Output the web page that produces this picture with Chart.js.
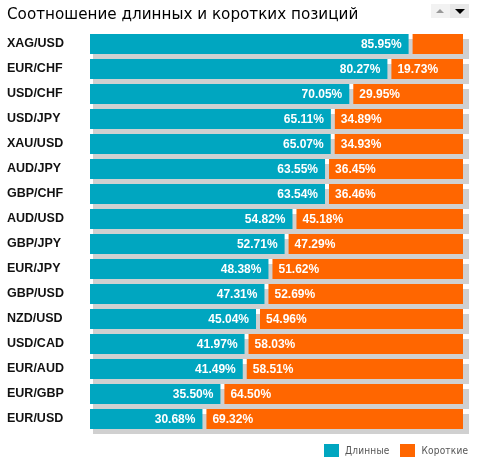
<!DOCTYPE html>
<html>
<head>
<meta charset="utf-8">
<script src="https://cdn.jsdelivr.net/npm/chart.js@4.4.0/dist/chart.umd.min.js"></script>
<style>
  body { margin: 0; background: #fff; }
  #wrap { position: relative; width: 478px; height: 460px; }
  #arrows { position: absolute; left: 431px; top: 4px; width: 38px; height: 14px; background: #e8e8e8; }
  #arrows .up { position: absolute; left: 0; top: 0; width: 19px; height: 14px; background: #f2f2f2; }
  #arrows .up:after { content: ''; position: absolute; left: 5px; top: 5px; border-left: 4px solid transparent; border-right: 4px solid transparent; border-bottom: 4px solid #999; }
  #arrows .down:after { content: ''; position: absolute; left: 24px; top: 5px; border-left: 5px solid transparent; border-right: 5px solid transparent; border-top: 5px solid #000; }
  #legend { position: absolute; left: 324px; top: 444px; font: 10px "DejaVu Sans Condensed", "DejaVu Sans"; color: #555; letter-spacing: 0.2px; white-space: nowrap; }
  #legend span { display: inline-block; vertical-align: top; }
  #legend .box { width: 15px; height: 13px; margin-right: 6px; }
  #legend .txt { line-height: 13px; margin-right: 11px; }
</style>
</head>
<body>
<div id="wrap">
  <canvas id="ratioChart" width="478" height="460"></canvas>
  <div id="arrows"><span class="up"></span><span class="down"></span></div>
  <div id="legend"></div>
</div>
<script>
const pairs = ['XAG/USD', 'EUR/CHF', 'USD/CHF', 'USD/JPY', 'XAU/USD', 'AUD/JPY', 'GBP/CHF', 'AUD/USD',
    'GBP/JPY', 'EUR/JPY', 'GBP/USD', 'NZD/USD', 'USD/CAD', 'EUR/AUD', 'EUR/GBP', 'EUR/USD'];
const longValues = [85.95, 80.27, 70.05, 65.11, 65.07, 63.55, 63.54, 54.82,
    52.71, 48.38, 47.31, 45.04, 41.97, 41.49, 35.50, 30.68];
const shortValues = [14.05, 19.73, 29.95, 34.89, 34.93, 36.45, 36.46, 45.18,
    47.29, 51.62, 52.69, 54.96, 58.03, 58.51, 64.50, 69.32];

const tealColor = '#00a6c0';
const orangeColor = '#ff6600';

// grey shadow behind each row
const shadowPlugin = {
    id: 'rowShadow',
    beforeDatasetsDraw(chart) {
        const ctx = chart.ctx;
        const longMeta = chart.getDatasetMeta(0);
        const right = chart.chartArea.right;
        ctx.save();
        ctx.fillStyle = '#d0d0d0';
        longMeta.data.forEach(function(bar) {
            const h = bar.height;
            ctx.fillRect(bar.base + 3, bar.y - h / 2 + 5, right + 6 - bar.base - 3, h);
        });
        ctx.restore();
    }
};

// percentage labels inside bars
const valueLabels = {
    id: 'valueLabels',
    afterDatasetsDraw(chart) {
        const ctx = chart.ctx;
        ctx.save();
        ctx.font = 'bold 12px "Liberation Sans"';
        ctx.fillStyle = '#fff';
        ctx.textBaseline = 'middle';
        chart.getDatasetMeta(0).data.forEach(function(bar, i) {
            ctx.textAlign = 'right';
            ctx.fillText(longValues[i].toFixed(2) + '%', bar.x - 9, bar.y + 1);
        });
        chart.getDatasetMeta(1).data.forEach(function(bar, i) {
            if (shortValues[i] < 15) return;
            ctx.textAlign = 'left';
            ctx.fillText(shortValues[i].toFixed(2) + '%', bar.base + 8, bar.y + 1);
        });
        ctx.restore();
    }
};

const ctx = document.getElementById('ratioChart').getContext('2d');
const ratioChart = new Chart(ctx, {
    type: 'bar',
    data: {
        labels: pairs,
        datasets: [{
            label: 'Длинные',
            data: longValues,
            backgroundColor: tealColor,
            borderColor: 'rgba(0,0,0,0)',
            borderWidth: { left: 0, right: 2, top: 0, bottom: 0 },
            borderSkipped: false,
            inflateAmount: 0
        },
        {
            label: 'Короткие',
            data: shortValues,
            backgroundColor: orangeColor,
            borderColor: 'rgba(0,0,0,0)',
            borderWidth: { left: 2, right: 0, top: 0, bottom: 0 },
            borderSkipped: false,
            inflateAmount: 0
        }]
    },
    options: {
        indexAxis: 'y',
        responsive: false,
        animation: false,
        barPercentage: 0.8,
        categoryPercentage: 1.0,
        layout: {
            padding: { left: 7, right: 15, top: 0, bottom: 28.5 }
        },
        scales: {
            x: {
                stacked: true,
                min: 0,
                max: 100,
                display: false
            },
            y: {
                stacked: true,
                grid: { display: false },
                border: { display: false },
                ticks: {
                    crossAlign: 'far',
                    padding: 0,
                    color: '#111',
                    font: { family: 'Liberation Sans', size: 12.5, weight: 'bold' }
                },
                afterFit: function(scale) {
                    scale.width = 83;
                }
            }
        },
        plugins: {
            legend: { display: false },
            tooltip: { enabled: false },
            title: {
                display: true,
                text: 'Соотношение длинных и коротких позиций',
                align: 'start',
                color: '#000',
                font: { family: 'DejaVu Sans', size: 15.2, weight: 'normal', lineHeight: '18px' },
                padding: { top: 6, bottom: 7.5 }
            }
        }
    },
    plugins: [shadowPlugin, valueLabels]
});

const legend = document.getElementById('legend');
ratioChart.data.datasets.forEach(function(ds) {
    legend.innerHTML += '<span class="box" style="background:' + ds.backgroundColor + '"></span>' +
        '<span class="txt">' + ds.label + '</span>';
});
</script>
</body>
</html>
